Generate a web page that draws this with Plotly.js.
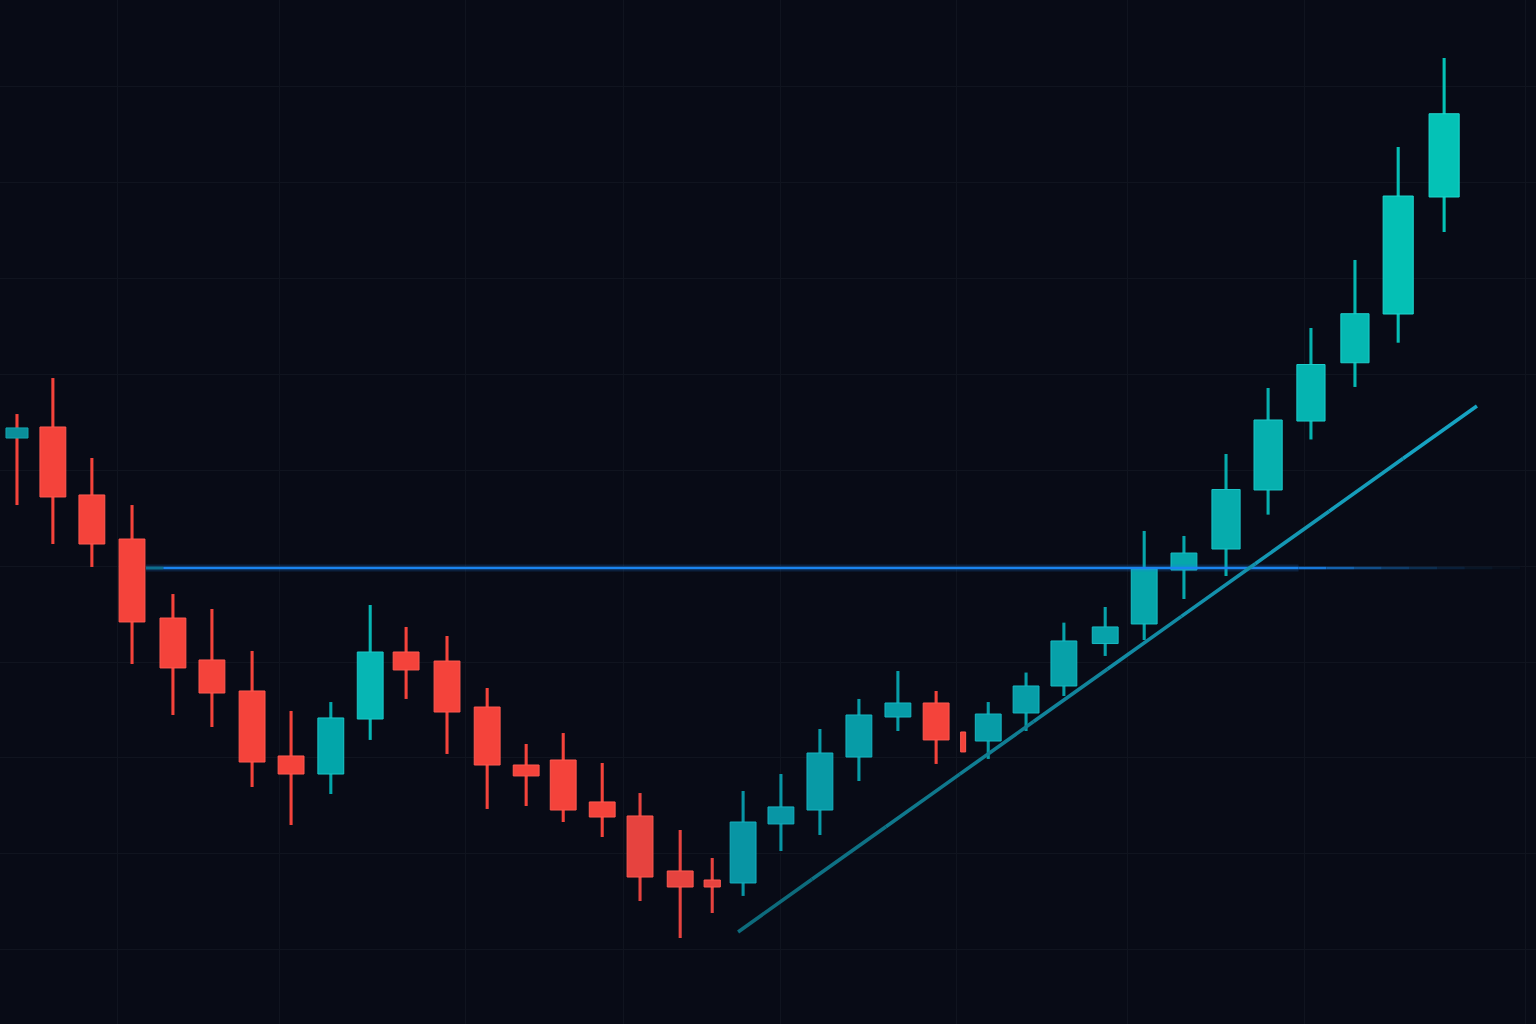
<!DOCTYPE html>
<html>
<head>
<meta charset="utf-8">
<script src="https://cdn.plot.ly/plotly-3.0.1.min.js"></script>
<style>
  html, body { margin: 0; padding: 0; background: #080b16; }
  #chart { width: 1536px; height: 1024px; }
</style>
</head>
<body>
<div id="chart"></div>
<script>
// ---------------- DATA ----------------
// session position of each candle (non-uniform spacing as drawn)
const sessionPos = [0, 0.93, 1.94, 2.98, 4.04, 5.05, 6.09, 7.10, 8.13, 9.15,
  10.08, 11.14, 12.18, 13.19, 14.15, 15.16, 16.14, 17.18, 18.01, 18.81,
  19.79, 20.80, 21.81, 22.82, 23.81, 24.51, 25.16, 26.14, 27.12, 28.19,
  29.20, 30.23, 31.32, 32.41, 33.52, 34.66, 35.78, 36.97];

const openPrice = [113.33, 114.48, 107.40, 102.81, 94.58, 90.21, 86.98, 80.21, 78.33, 84.06,
  91.04, 90.10, 85.31, 79.27, 79.79, 75.42, 73.96, 68.23, 67.29, 66.98,
  73.13, 74.58, 80.10, 84.27, 85.73, 82.71, 81.77, 84.69, 87.50, 91.92,
  93.96, 99.58, 101.77, 107.92, 115.10, 121.17, 126.25, 138.44];

const highPrice = [115.83, 119.58, 111.25, 106.35, 97.08, 95.52, 91.15, 84.90, 85.83, 95.94,
  93.65, 92.71, 87.29, 81.46, 82.60, 79.48, 76.35, 72.50, 69.58, 76.56,
  78.33, 83.02, 86.15, 89.06, 86.98, 82.71, 85.83, 88.90, 94.10, 95.73,
  103.65, 103.13, 111.67, 118.54, 124.79, 131.88, 143.65, 152.92];

const lowPrice = [106.35, 102.29, 99.90, 89.79, 84.48, 83.23, 76.98, 73.02, 76.25, 81.88,
  86.15, 80.42, 74.69, 75.00, 73.33, 71.77, 65.10, 61.25, 63.85, 65.63,
  70.31, 71.98, 77.60, 82.81, 79.38, 80.63, 79.90, 82.81, 86.46, 90.63,
  92.29, 96.56, 98.96, 105.35, 113.18, 118.65, 123.26, 134.79];

const closePrice = [114.38, 107.19, 102.29, 94.17, 89.38, 86.77, 79.58, 78.33, 84.17, 91.04,
  89.17, 84.79, 79.27, 78.13, 74.58, 73.85, 67.60, 66.56, 66.56, 73.33,
  74.90, 80.52, 84.48, 85.73, 81.88, 80.63, 84.58, 87.50, 92.19, 93.65,
  99.69, 101.35, 107.97, 115.21, 120.99, 126.28, 138.54, 147.11];

// resistance level and its drawn extent (sessions)
const resistanceLevel = 99.79;
const resistanceFrom = 3.34;
const resistanceSolidTo = 33.2;
const resistanceFadeTo = 38.94;

// rising trendline end points
const trendX = [18.68, 37.82];
const trendY = [61.88, 116.67];

// grid positions
const gridSessions = [2.61, 6.81, 11.62, 15.70, 19.77, 24.34, 28.78, 33.36, 39.07];
const gridPrices = [60, 70, 80, 90, 100, 110, 120, 130, 140, 150];

// ---------------- STYLE ----------------
const BG = '#080b16';
const GRID = '#10141f';
const RED = '#f4433b';
const RED_DEEP = '#e6433f';
const RED_EDGE = '#ff5a50';

function hexToRgb(h) {
  const n = parseInt(h.slice(1), 16);
  return [(n >> 16) & 255, (n >> 8) & 255, n & 255];
}
function mix(a, b, t) {
  const A = hexToRgb(a), B = hexToRgb(b);
  t = Math.max(0, Math.min(1, t));
  return 'rgb(' + A.map((v, i) => Math.round(v + (B[i] - v) * t)).join(',') + ')';
}

const n = sessionPos.length;
const bodyBase = [], bodyLen = [], wickLen = [];
const bodyColor = [], edgeColor = [], wickColor = [], bodyW = [];
for (let i = 0; i < n; i++) {
  const up = closePrice[i] >= openPrice[i];
  bodyBase.push(Math.min(openPrice[i], closePrice[i]));
  bodyLen.push(Math.abs(closePrice[i] - openPrice[i]));
  wickLen.push(highPrice[i] - lowPrice[i]);
  let c, e;
  if (up) {
    if (i < 5) { c = '#0a8f9b'; e = '#14a6b0'; }
    else if (i < 15) { c = mix('#02a6aa', '#06b6b4', (closePrice[i] - 84) / 7); e = '#1cc8c8'; }
    else {
      const t = (closePrice[i] - 72) / 70;
      c = mix('#0894a4', '#04c2b6', t);
      e = mix('#16b0c0', '#20d8d0', t);
    }
  } else {
    c = (i >= 16 && i <= 18) ? RED_DEEP : RED;
    e = RED_EDGE;
  }
  bodyColor.push(c);
  edgeColor.push(e);
  wickColor.push(i === 0 ? RED : c);
  let w = 0.67;
  if (i === 0) w = 0.57;
  if (i === 18) w = 0.42;
  if (i === 25) w = 0.13;
  if (i >= 32) w = 0.73;
  if (i >= 36) w = 0.78;
  bodyW.push(w);
}

const traces = [];

// resistance line glow + line + fade out
traces.push({
  type: 'scatter', mode: 'lines', hoverinfo: 'skip',
  x: [resistanceFrom, resistanceSolidTo], y: [resistanceLevel, resistanceLevel],
  line: { color: 'rgba(30,130,240,0.18)', width: 7 }
});
traces.push({
  type: 'scatter', mode: 'lines', hoverinfo: 'skip',
  x: [resistanceFrom, resistanceFrom + 0.45], y: [resistanceLevel, resistanceLevel],
  line: { color: '#0d6e8e', width: 3 }
});
traces.push({
  type: 'scatter', mode: 'lines', hoverinfo: 'skip',
  x: [resistanceFrom + 0.45, resistanceSolidTo], y: [resistanceLevel, resistanceLevel],
  line: { color: '#1a84ee', width: 2.6 }
});
const fadeSteps = 8;
for (let k = 0; k < fadeSteps; k++) {
  const x0 = resistanceSolidTo + (resistanceFadeTo - resistanceSolidTo) * k / fadeSteps;
  const x1 = resistanceSolidTo + (resistanceFadeTo - resistanceSolidTo) * (k + 1) / fadeSteps;
  const a = 1 - (k + 0.5) / fadeSteps;
  traces.push({
    type: 'scatter', mode: 'lines', hoverinfo: 'skip',
    x: [x0, x1], y: [resistanceLevel, resistanceLevel],
    line: { color: mix('#1a84ee', '#0c3a5a', (k + 0.5) / fadeSteps), width: 2.6 },
    opacity: Math.max(0.08, a)
  });
}

// trendline, colour shifting from deep teal to bright cyan
const segs = 10;
for (let k = 0; k < segs; k++) {
  const t0 = k / segs, t1 = (k + 1) / segs;
  traces.push({
    type: 'scatter', mode: 'lines', hoverinfo: 'skip',
    x: [trendX[0] + (trendX[1] - trendX[0]) * t0, trendX[0] + (trendX[1] - trendX[0]) * t1],
    y: [trendY[0] + (trendY[1] - trendY[0]) * t0, trendY[0] + (trendY[1] - trendY[0]) * t1],
    line: { color: mix('#0c6878', '#16a6c6', (k + 0.5) / segs), width: 3.6 }
  });
}

// wicks
traces.push({
  type: 'bar', hoverinfo: 'skip',
  x: sessionPos, base: lowPrice, y: wickLen, width: 0.08,
  marker: { color: wickColor, line: { width: 0 } }
});
// bodies
traces.push({
  type: 'bar',
  x: sessionPos, base: bodyBase, y: bodyLen, width: bodyW,
  customdata: openPrice.map((o, i) => [o, highPrice[i], lowPrice[i], closePrice[i]]),
  hovertemplate: 'O %{customdata[0]}<br>H %{customdata[1]}<br>L %{customdata[2]}<br>C %{customdata[3]}<extra></extra>',
  marker: { color: bodyColor, line: { color: edgeColor, width: 1 } }
});

const layout = {
  width: 1536, height: 1024,
  margin: { l: 0, r: 0, t: 0, b: 0, pad: 0 },
  paper_bgcolor: BG, plot_bgcolor: BG,
  showlegend: false,
  barmode: 'overlay',
  xaxis: {
    range: [-0.44, 39.35], showticklabels: false, ticks: '',
    tickmode: 'array', tickvals: gridSessions,
    showgrid: true, gridcolor: GRID, gridwidth: 1,
    zeroline: false, showline: false, fixedrange: true
  },
  yaxis: {
    range: [52.29, 158.96], showticklabels: false, ticks: '',
    tickmode: 'array', tickvals: gridPrices,
    showgrid: true, gridcolor: GRID, gridwidth: 1,
    zeroline: false, showline: false, fixedrange: true
  }
};

Plotly.newPlot('chart', traces, layout, { displayModeBar: false, staticPlot: true });
</script>
</body>
</html>
